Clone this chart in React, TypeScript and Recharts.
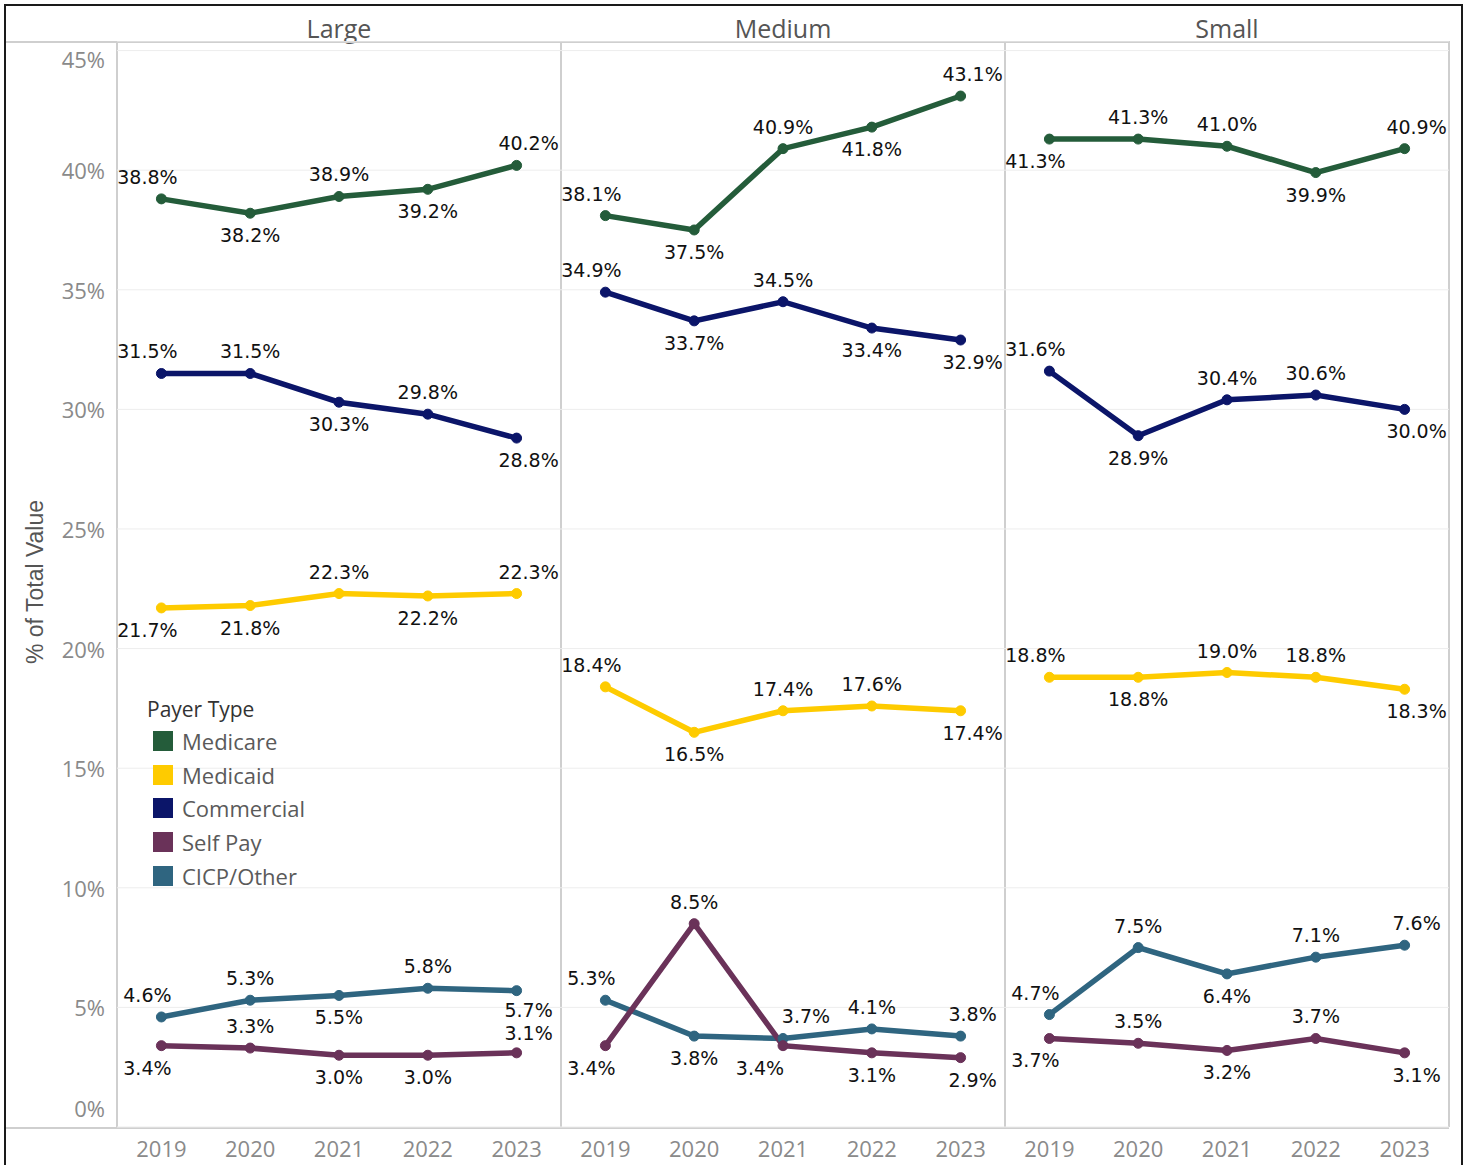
import React from "react";
import { LineChart, Line, XAxis, YAxis, CartesianGrid } from "recharts";

const years = ["2019", "2020", "2021", "2022", "2023"];
const panels = ["Large", "Medium", "Small"];
const yTicks = [0, 5, 10, 15, 20, 25, 30, 35, 40, 45];

// values in % of total value
const largeMedicare = [38.8, 38.2, 38.9, 39.2, 40.2];
const largeMedicaid = [21.7, 21.8, 22.3, 22.2, 22.3];
const largeCommercial = [31.5, 31.5, 30.3, 29.8, 28.8];
const largeSelfPay = [3.4, 3.3, 3.0, 3.0, 3.1];
const largeCicp = [4.6, 5.3, 5.5, 5.8, 5.7];

const mediumMedicare = [38.1, 37.5, 40.9, 41.8, 43.1];
const mediumMedicaid = [18.4, 16.5, 17.4, 17.6, 17.4];
const mediumCommercial = [34.9, 33.7, 34.5, 33.4, 32.9];
const mediumSelfPay = [3.4, 8.5, 3.4, 3.1, 2.9];
const mediumCicp = [5.3, 3.8, 3.7, 4.1, 3.8];

const smallMedicare = [41.3, 41.3, 41.0, 39.9, 40.9];
const smallMedicaid = [18.8, 18.8, 19.0, 18.8, 18.3];
const smallCommercial = [31.6, 28.9, 30.4, 30.6, 30.0];
const smallSelfPay = [3.7, 3.5, 3.2, 3.7, 3.1];
const smallCicp = [4.7, 7.5, 6.4, 7.1, 7.6];

// label placement: U above, D below, R/L shift sideways, n = closer to the point
const largePos = {
  Medicare: ["U", "D", "U", "D", "U"],
  Medicaid: ["D", "D", "U", "D", "U"],
  Commercial: ["U", "U", "D", "U", "D"],
  SelfPay: ["D", "U", "D", "D", "Un"],
  Cicp: ["U", "U", "D", "U", "Dn"],
};
const mediumPos = {
  Medicare: ["U", "D", "U", "D", "U"],
  Medicaid: ["U", "D", "U", "U", "D"],
  Commercial: ["U", "D", "U", "D", "D"],
  SelfPay: ["D", "U", "DL", "D", "D"],
  Cicp: ["U", "D", "UR", "U", "U"],
};
const smallPos = {
  Medicare: ["D", "U", "U", "D", "U"],
  Medicaid: ["U", "D", "U", "U", "D"],
  Commercial: ["U", "D", "U", "U", "D"],
  SelfPay: ["D", "U", "D", "U", "D"],
  Cicp: ["U", "U", "D", "U", "U"],
};

const colors = {
  Medicare: "#245c3a",
  Medicaid: "#fecb00",
  Commercial: "#0b1569",
  SelfPay: "#6a3259",
  Cicp: "#2f6580",
};

const legendItems = [
  { key: "Medicare", name: "Medicare" },
  { key: "Medicaid", name: "Medicaid" },
  { key: "Commercial", name: "Commercial" },
  { key: "SelfPay", name: "Self Pay" },
  { key: "Cicp", name: "CICP/Other" },
];

const panelSeries = [
  { Medicare: largeMedicare, Medicaid: largeMedicaid, Commercial: largeCommercial, SelfPay: largeSelfPay, Cicp: largeCicp },
  { Medicare: mediumMedicare, Medicaid: mediumMedicaid, Commercial: mediumCommercial, SelfPay: mediumSelfPay, Cicp: mediumCicp },
  { Medicare: smallMedicare, Medicaid: smallMedicaid, Commercial: smallCommercial, SelfPay: smallSelfPay, Cicp: smallCicp },
];
const panelPos = [largePos, mediumPos, smallPos];

const PLOT_TOP = 41;
const PLOT_H = 1086;
const PANEL_W = 444;
const AXIS_LEFT = 117;
const GRID = "#cfcfcf";

function buildRows(series: any) {
  return years.map((year, i) => ({
    year,
    Medicare: series.Medicare[i],
    Medicaid: series.Medicaid[i],
    Commercial: series.Commercial[i],
    SelfPay: series.SelfPay[i],
    Cicp: series.Cicp[i],
  }));
}

function makeLabel(pos: string[]) {
  return (props: any) => {
    const { x, y, index, value } = props;
    const p = pos[index] || "U";
    let dx = 0;
    if (index === 0) dx = -14;
    if (index === years.length - 1) dx = 12;
    if (p.includes("R")) dx = 23;
    if (p.includes("L")) dx = -23;
    const off = p.includes("n") ? 19.5 : 22;
    const dy = p[0] === "U" ? -off : off;
    return (
      <text
        key={"l" + index}
        x={x + dx}
        y={y + dy}
        textAnchor="middle"
        dominantBaseline="central"
        fontFamily="DejaVu Sans"
        fontSize={19}
        fill="#111"
      >
        {Number(value).toFixed(1)}%
      </text>
    );
  };
}

const YTick = (props: any) => {
  const { y, payload } = props;
  let dy = 0;
  if (payload.value === 0) dy = -19;
  if (payload.value === 45) dy = 8;
  return (
    <text
      x={100}
      y={y + dy}
      textAnchor="end"
      dominantBaseline="central"
      fontFamily="Open Sans"
      fontSize={22}
      fill="#8a8a8a"
    >
      {payload.value}%
    </text>
  );
};

const XTick = (props: any) => {
  const { x, payload } = props;
  return (
    <text
      x={x}
      y={PLOT_H + 21}
      textAnchor="middle"
      dominantBaseline="central"
      fontFamily="Open Sans"
      fontSize={22}
      fill="#8a8a8a"
    >
      {payload.value}
    </text>
  );
};

function Panel({ idx }: { idx: number }) {
  const rows = buildRows(panelSeries[idx]);
  const pos: any = panelPos[idx];
  const first = idx === 0;
  const left = first ? 5 : AXIS_LEFT + idx * PANEL_W;
  const width = first ? AXIS_LEFT - 5 + PANEL_W : PANEL_W;
  const order = ["Medicare", "Medicaid", "Commercial", "Cicp", "SelfPay"];
  return (
    <div style={{ position: "absolute", left, top: PLOT_TOP }}>
      <LineChart
        width={width}
        height={PLOT_H + 38}
        data={rows}
        margin={{ top: 0, right: 0, left: 0, bottom: 0 }}
      >
        <CartesianGrid vertical={false} stroke="#ededed" />
        <XAxis
          dataKey="year"
          height={38}
          axisLine={false}
          tickLine={false}
          padding={{ left: PANEL_W / 10, right: PANEL_W / 10 }}
          tick={<XTick />}
          interval={0}
        />
        <YAxis
          hide={!first}
          width={first ? AXIS_LEFT - 5 : 0}
          domain={[0, 45.4]}
          ticks={yTicks}
          axisLine={false}
          tickLine={false}
          tick={<YTick />}
        />
        {order.map((k) => (
          <Line
            key={k}
            dataKey={k}
            stroke={(colors as any)[k]}
            strokeWidth={5.5}
            dot={{ r: 5, fill: (colors as any)[k], stroke: (colors as any)[k], strokeWidth: 1 }}
            activeDot={false}
            isAnimationActive={false}
            label={makeLabel(pos[k])}
          />
        ))}
      </LineChart>
    </div>
  );
}

export default function App() {
  const lineStyle = { position: "absolute" as const, background: GRID };
  return (
    <div
      style={{
        position: "absolute",
        left: 0,
        top: 0,
        width: 1468,
        height: 1165,
        overflow: "hidden",
        background: "#fff",
      }}
    >
      {/* outer frame */}
      <div
        style={{
          position: "absolute",
          left: 4,
          top: 4,
          width: 1455,
          height: 1180,
          border: "2px solid #1a1a1a",
        }}
      />
      {/* panel headers */}
      {panels.map((p, i) => (
        <div
          key={p}
          style={{
            position: "absolute",
            left: AXIS_LEFT + i * PANEL_W,
            width: PANEL_W,
            top: 12,
            textAlign: "center",
            fontFamily: "Open Sans",
            fontSize: 25,
            lineHeight: "32px",
            color: "#555",
          }}
        >
          {p}
        </div>
      ))}
      {/* frame lines */}
      <div style={{ ...lineStyle, left: 6, top: PLOT_TOP, width: 1449 - 6, height: 2 }} />
      <div style={{ ...lineStyle, left: 6, top: PLOT_TOP + PLOT_H, width: 1449 - 6, height: 2 }} />
      {[0, 1, 2, 3].map((i) => (
        <div
          key={i}
          style={{ ...lineStyle, left: AXIS_LEFT + i * PANEL_W - 1, top: PLOT_TOP, width: 2, height: PLOT_H }}
        />
      ))}
      {panels.map((p, i) => (
        <Panel key={p} idx={i} />
      ))}
      {/* y axis title */}
      <div
        style={{
          position: "absolute",
          left: 35,
          top: 582,
          transform: "translate(-50%, -50%) rotate(-90deg)",
          whiteSpace: "nowrap",
          fontFamily: "Liberation Sans",
          fontSize: 23,
          color: "#555",
        }}
      >
        % of Total Value
      </div>
      {/* legend */}
      <div style={{ position: "absolute", left: 147, top: 694 }}>
        <div style={{ fontFamily: "Open Sans", fontSize: 21, color: "#333", lineHeight: "30px" }}>
          Payer Type
        </div>
        {legendItems.map((it) => (
          <div
            key={it.key}
            style={{ display: "flex", alignItems: "center", height: 33.8, marginLeft: 6 }}
          >
            <div
              style={{
                width: 20,
                height: 20,
                background: (colors as any)[it.key],
                marginRight: 9,
              }}
            />
            <span style={{ fontFamily: "Open Sans", fontSize: 22, color: "#5a5a5a" }}>{it.name}</span>
          </div>
        ))}
      </div>
    </div>
  );
}
